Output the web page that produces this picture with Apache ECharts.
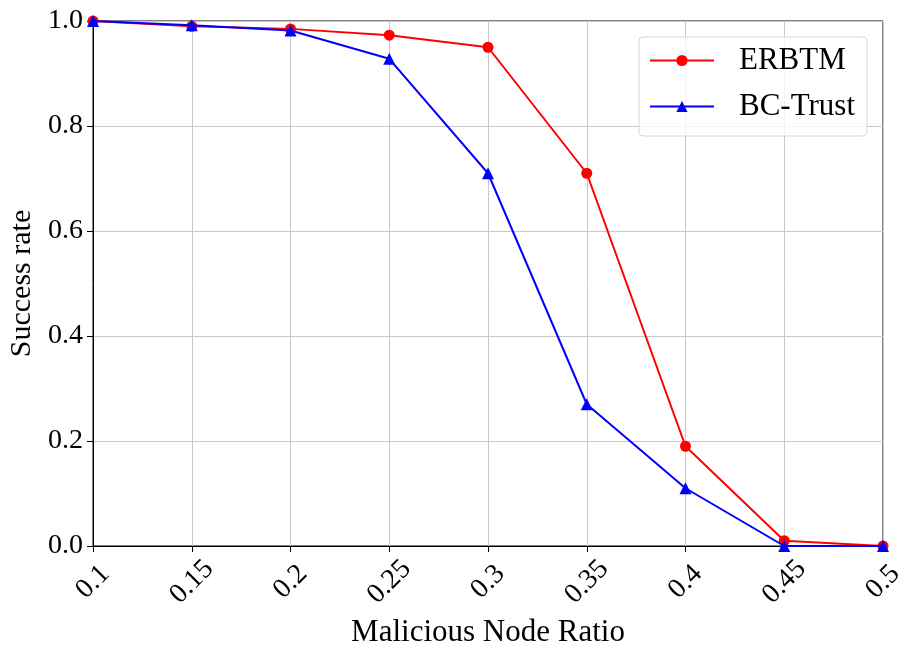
<!DOCTYPE html>
<html>
<head>
<meta charset="utf-8">
<script src="https://cdn.jsdelivr.net/npm/echarts@6/dist/echarts.min.js"></script>
<style>
html,body{margin:0;padding:0;background:#fff;}
#chart{width:900px;height:646px;}
</style>
</head>
<body>
<div id="chart"></div>
<script>
var ratios      = ['0.1','0.15','0.2','0.25','0.3','0.35','0.4','0.45','0.5'];
var erbtm       = [1.0, 0.99, 0.985, 0.973, 0.95, 0.71, 0.19, 0.01, 0.0];
var bcTrust     = [1.0, 0.992, 0.982, 0.928, 0.71, 0.27, 0.11, 0.0, 0.0];

var font = 'Liberation Serif';
var chart = echarts.init(document.getElementById('chart'));
var option = {
    animation: false,
    textStyle: {fontFamily: font},
    grid: {
        left: 93, right: 17, top: 21, bottom: 100,
        outerBoundsMode: 'none',
        containLabel: false,
        show: true, borderColor: '#000', borderWidth: 1
    },
    legend: {
        right: 33, top: 37,
        orient: 'vertical',
        padding: [8, 12, 14, 10],
        itemGap: 15,
        itemWidth: 64, itemHeight: 14,
        backgroundColor: 'rgba(255,255,255,0.8)',
        borderColor: '#d6d6d6', borderWidth: 1, borderRadius: 4,
        textStyle: {fontFamily: font, fontSize: 31, color: '#000', padding: [0, 0, 0, 20]},
        data: ['ERBTM', 'BC-Trust']
    },
    xAxis: {
        type: 'category',
        data: ratios,
        boundaryGap: false,
        name: 'Malicious Node Ratio',
        nameLocation: 'middle',
        nameGap: 71,
        nameTextStyle: {fontFamily: font, fontSize: 31, color: '#000'},
        axisLine: {lineStyle: {color: '#000', width: 1}},
        axisTick: {show: true, length: 6, lineStyle: {color: '#000'}, alignWithLabel: true},
        axisLabel: {
            fontFamily: font, fontSize: 28, color: '#000', rotate: 45, margin: 36,
            align: 'center', verticalAlign: 'middle'
        },
        splitLine: {show: true, lineStyle: {color: '#c8c8c8', width: 1}}
    },
    yAxis: {
        type: 'value',
        min: 0, max: 1, interval: 0.2,
        name: 'Success rate',
        nameLocation: 'middle',
        nameGap: 55,
        nameTextStyle: {fontFamily: font, fontSize: 30, color: '#000'},
        axisLine: {show: true, lineStyle: {color: '#000', width: 1}},
        axisTick: {show: true, length: 6, lineStyle: {color: '#000'}},
        axisLabel: {
            fontFamily: font, fontSize: 28, color: '#000', margin: 10,
            formatter: function(v){ return v.toFixed(1); }
        },
        splitLine: {show: true, lineStyle: {color: '#c8c8c8', width: 1}}
    },
    series: [
        {
            name: 'ERBTM', type: 'line', data: erbtm,
            symbol: 'circle', symbolSize: 11,
            lineStyle: {color: '#ff0000', width: 2},
            itemStyle: {color: '#ff0000'},
            z: 3
        },
        {
            name: 'BC-Trust', type: 'line', data: bcTrust,
            symbol: 'triangle', symbolSize: 12,
            lineStyle: {color: '#0000ff', width: 2},
            itemStyle: {color: '#0000ff'},
            z: 4
        }
    ]
};
chart.setOption(option);
</script>
</body>
</html>
